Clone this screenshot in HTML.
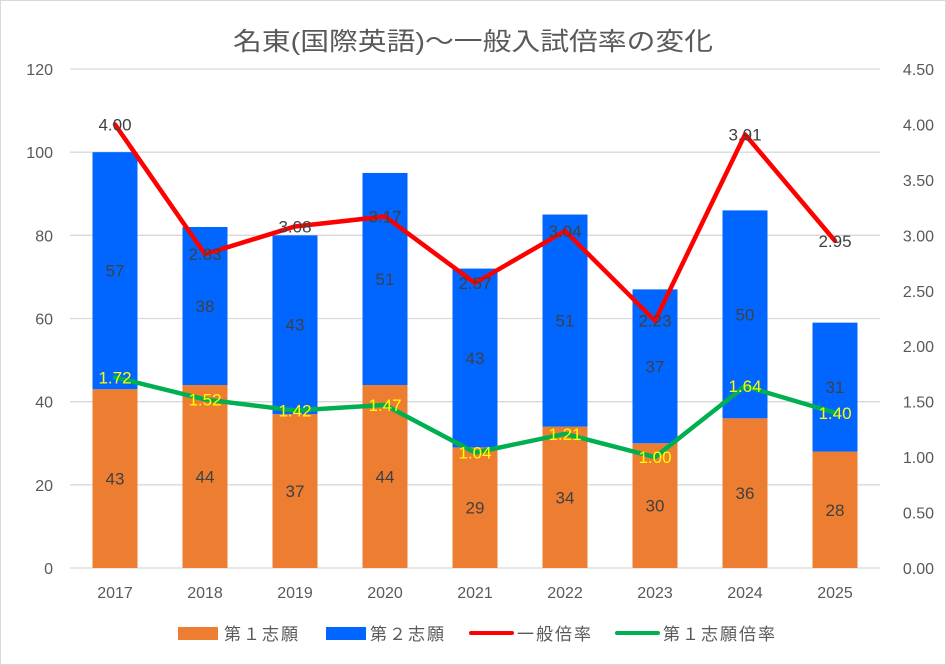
<!DOCTYPE html>
<html><head><meta charset="utf-8"><style>
body{margin:0;background:#fff;}
svg{display:block;font-family:"Liberation Sans","Noto Sans CJK JP",sans-serif;}
</style></head><body>
<svg width="946" height="665" viewBox="0 0 946 665">
<rect x="0.5" y="0.5" width="945" height="664" fill="#fff" stroke="#d9d9d9"/>
<text x="233" y="50" textLength="480" lengthAdjust="spacingAndGlyphs" font-size="25" fill="#595959">名東(国際英語)～一般入試倍率の変化</text>
<g id="grid"></g><g id="bars"></g><g id="lines"></g><g id="labels"></g>
<g font-size="17" fill="#595959">
<rect x="178" y="627" width="40" height="13" fill="#ed7d31"/>
<text x="224" y="640" textLength="74">第１志願</text>
<rect x="326" y="627" width="40" height="13" fill="#0066ff"/>
<text x="370" y="640" textLength="74">第２志願</text>
<line x1="471" y1="633" x2="512" y2="633" stroke="#ff0000" stroke-width="4" stroke-linecap="round"/>
<text x="517" y="640" textLength="74">一般倍率</text>
<line x1="617" y1="633" x2="658" y2="633" stroke="#00b050" stroke-width="4" stroke-linecap="round"/>
<text x="663" y="640" textLength="112">第１志願倍率</text>
</g>
</svg>
<script>
const years=['2017','2018','2019','2020','2021','2022','2023','2024','2025'];
const first=[43,44,37,44,29,34,30,36,28];
const second=[57,38,43,51,43,51,37,50,31];
const general=[4.00,2.83,3.08,3.17,2.57,3.04,2.23,3.91,2.95];
const firstRatio=[1.72,1.52,1.42,1.47,1.04,1.21,1.00,1.64,1.40];
const leftTicks=[0,20,40,60,80,100,120];
const rightTicks=['0.00','0.50','1.00','1.50','2.00','2.50','3.00','3.50','4.00','4.50'];
const NS='http://www.w3.org/2000/svg';
const X0=70,X1=880,Y0=568,YT=69;
const band=(X1-X0)/years.length;
const xc=i=>X0+band*(i+0.5);
const yL=v=>Y0-(v/120)*(Y0-YT);
const yR=v=>Y0-(v/4.5)*(Y0-YT);
function mk(tag,attrs,parent,txt){const e=document.createElementNS(NS,tag);for(const k in attrs)e.setAttribute(k,attrs[k]);if(txt!==undefined)e.textContent=txt;document.getElementById(parent).appendChild(e);return e;}
leftTicks.forEach(t=>{
  const l=mk('line',{x1:X0,x2:X1,y1:yL(t),y2:yL(t),stroke:'#d9d9d9','stroke-width':1.3},'grid');
  
  
  const tx=mk('text',{x:53,y:yL(t)+6,'text-anchor':'end','font-size':16,fill:'#595959'},'grid',String(t));
  
  
});
rightTicks.forEach(t=>{
  const tx=mk('text',{x:934,y:yR(parseFloat(t))+6,'text-anchor':'end','font-size':16,fill:'#595959'},'grid',t);
  
  
});
const bw=45;
years.forEach((y,i)=>{
  const tx=mk('text',{x:xc(i),y:598,'text-anchor':'middle','font-size':16,fill:'#595959'},'grid',y);
  
  
  const b1=mk('rect',{x:xc(i)-bw/2,y:yL(first[i]),width:bw,height:Y0-yL(first[i]),fill:'#ed7d31'},'bars');
  
  
  const b2=mk('rect',{x:xc(i)-bw/2,y:yL(first[i]+second[i]),width:bw,height:yL(first[i])-yL(first[i]+second[i]),fill:'#0066ff'},'bars');
  
  
  const l1=mk('text',{x:xc(i),y:(yL(first[i])+Y0)/2+6,'text-anchor':'middle','font-size':17,fill:'#404040'},'labels',String(first[i]));
  
  
  const l2=mk('text',{x:xc(i),y:(yL(first[i])+yL(first[i]+second[i]))/2+6,'text-anchor':'middle','font-size':17,fill:'#404040'},'labels',String(second[i]));
  
  
  const l3=mk('text',{x:xc(i),y:yR(general[i])+6,'text-anchor':'middle','font-size':17,fill:'#404040'},'labels',general[i].toFixed(2));
  
  
  const l4=mk('text',{x:xc(i),y:yR(firstRatio[i])+6,'text-anchor':'middle','font-size':17,fill:'#ffff00'},'labels',firstRatio[i].toFixed(2));
  
  
});
const p1=mk('polyline',{points:general.map((v,i)=>xc(i)+','+yR(v)).join(' '),fill:'none',stroke:'#ff0000','stroke-width':4.5,'stroke-linejoin':'round','stroke-linecap':'round'},'lines');


const p2=mk('polyline',{points:firstRatio.map((v,i)=>xc(i)+','+yR(v)).join(' '),fill:'none',stroke:'#00b050','stroke-width':4.5,'stroke-linejoin':'round','stroke-linecap':'round'},'lines');


</script>
</body></html>
